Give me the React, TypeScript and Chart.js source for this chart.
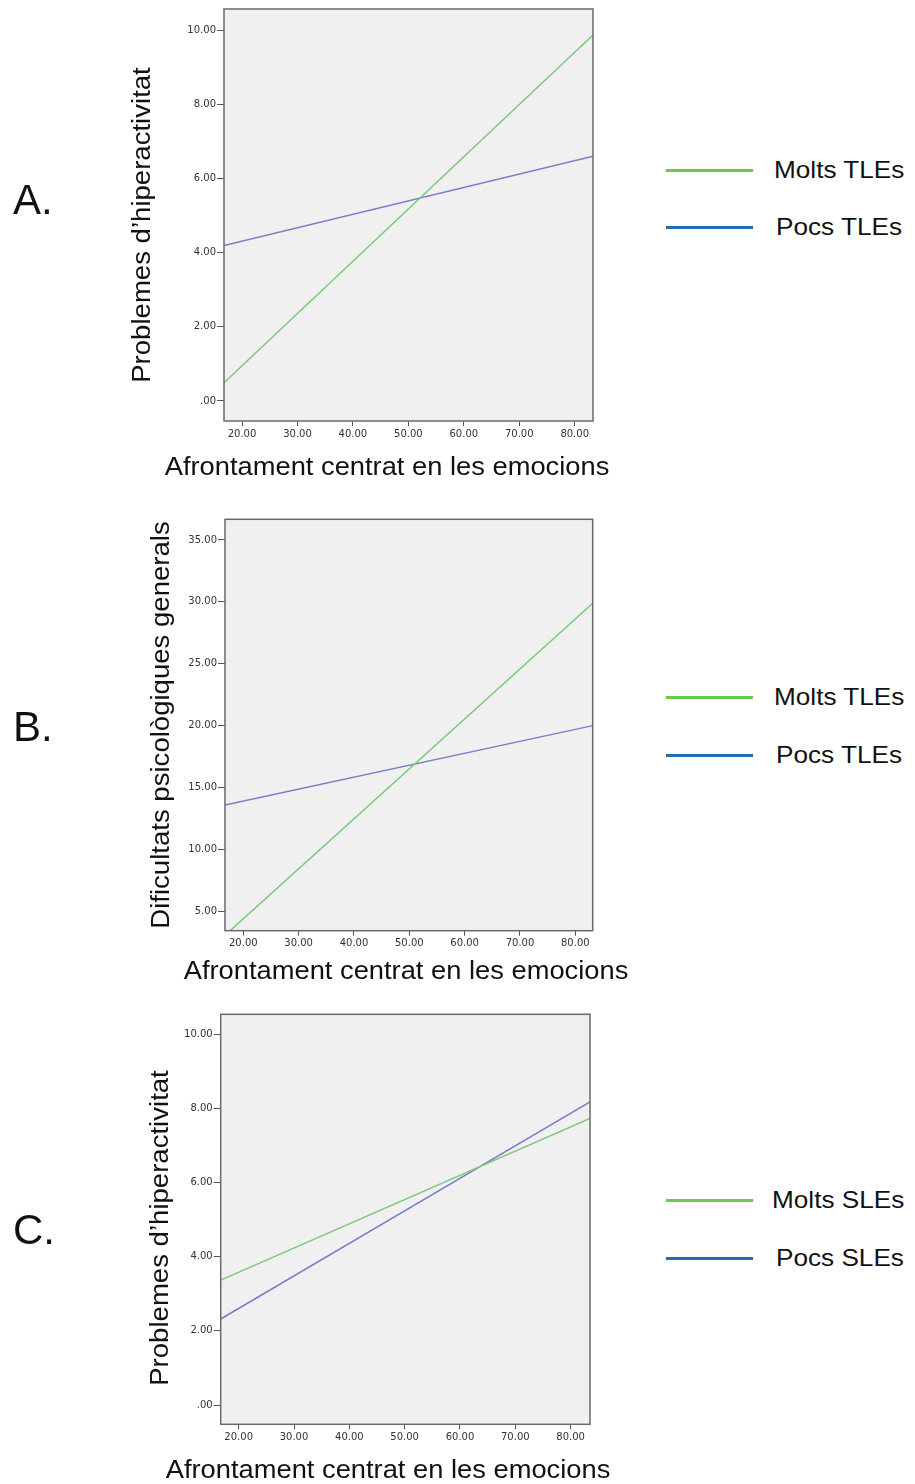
import React, { useEffect, useRef } from 'react';
import { Chart, registerables } from 'chart.js';

Chart.register(...registerables);

// ---------- data ----------
const xTicks = [20, 30, 40, 50, 60, 70, 80];
const yTicksHyper = [0, 2, 4, 6, 8, 10];
const yTicksDif = [5, 10, 15, 20, 25, 30, 35];

// Panel A (hiperactivitat x TLEs)
const aX = [16.75, 83.3];
const aMolts = [0.49, 9.87];
const aPocs = [4.19, 6.6];
const aYRange = [-0.54, 10.57];

// Panel B (dificultats generals x TLEs)
const bX = [16.69, 83.14];
const bMolts = [3.04, 29.88];
const bPocs = [13.58, 19.99];
const bYRange = [3.41, 36.67];

// Panel C (hiperactivitat x SLEs)
const cX = [16.75, 83.5];
const cMolts = [3.37, 7.73];
const cPocs = [2.32, 8.18];
const cYRange = [-0.52, 10.54];

const legendTLE = ['Molts TLEs', 'Pocs TLEs'];
const legendSLE = ['Molts SLEs', 'Pocs SLEs'];
const xTitle = 'Afrontament centrat en les emocions';
const yTitleHyper = 'Problemes d’hiperactivitat';
const yTitleDif = 'Dificultats psicològiques generals';

// ---------- styles ----------
const PLOT_GREEN = '#7cc87c';
const PLOT_BLUE = '#7c7ccc';
const LEG_GREEN = '#6cc84a';
const LEG_BLUE = '#1f6db5';
const SANS = '"Liberation Sans", Arial, Helvetica, sans-serif';
const CANVAS_W = 660;
const Y_AXIS_W = 60;
const X_AXIS_H = 25;

const fmt = (v: any) => {
  const n = Number(v);
  return n === 0 ? '.00' : n.toFixed(2);
};

const panelDecor = {
  id: 'panelDecor',
  beforeDraw(chart: any) {
    const { ctx, chartArea: a } = chart;
    ctx.save();
    ctx.fillStyle = '#f0f0f0';
    ctx.fillRect(a.left, a.top, a.right - a.left, a.bottom - a.top);
    ctx.restore();
  },
  afterDraw(chart: any, _args: any, opts: any) {
    const { ctx, chartArea: a } = chart;
    ctx.save();
    ctx.strokeStyle = '#6a6a6a';
    ctx.lineWidth = 1.5;
    ctx.strokeRect(a.left, a.top, a.right - a.left, a.bottom - a.top);
    ctx.fillStyle = '#111';
    ctx.font = `26px ${SANS}`;
    ctx.textAlign = 'center';
    ctx.textBaseline = 'alphabetic';
    // x title
    ctx.save();
    ctx.translate(opts.xTitleX, opts.xTitleY);
    ctx.scale(1.05, 1);
    ctx.fillText(opts.xTitle, 0, 0);
    ctx.restore();
    // y title
    ctx.save();
    ctx.translate(opts.yTitleX, opts.yTitleY);
    ctx.rotate(-Math.PI / 2);
    ctx.scale(1.06, 1);
    ctx.fillText(opts.yTitle, 0, 0);
    ctx.restore();
    ctx.restore();
  },
};

type PanelProps = {
  top: number;
  height: number;
  plot: { l: number; r: number; t: number; b: number };
  xs: number[];
  molts: number[];
  pocs: number[];
  yRange: number[];
  yTicks: number[];
  yTitle: string;
  yTitleX: number;
  yTitleY: number;
  xTitleX: number;
  xTitleY: number;
  legend: string[];
};

function Panel(p: PanelProps) {
  const ref = useRef<HTMLCanvasElement>(null);
  useEffect(() => {
    if (!ref.current) return;
    const tickFont = { family: '"DejaVu Sans", sans-serif', size: 10 };
    const chart = new Chart(ref.current, {
      type: 'line',
      data: {
        datasets: [
          {
            label: p.legend[0],
            data: p.xs.map((v, i) => ({ x: v, y: p.molts[i] })),
            borderColor: PLOT_GREEN,
            borderWidth: 1.5,
            pointRadius: 0,
            tension: 0,
            fill: false,
          },
          {
            label: p.legend[1],
            data: p.xs.map((v, i) => ({ x: v, y: p.pocs[i] })),
            borderColor: PLOT_BLUE,
            borderWidth: 1.5,
            pointRadius: 0,
            tension: 0,
            fill: false,
          },
        ],
      },
      options: {
        responsive: false,
        animation: false,
        events: [],
        layout: {
          padding: {
            left: p.plot.l - Y_AXIS_W,
            right: CANVAS_W - p.plot.r,
            top: p.plot.t - p.top,
            bottom: p.height - (p.plot.b - p.top) - X_AXIS_H,
          },
        },
        plugins: {
          legend: { display: false },
          tooltip: { enabled: false },
          panelDecor: {
            xTitle,
            yTitle: p.yTitle,
            xTitleX: p.xTitleX,
            xTitleY: p.xTitleY - p.top,
            yTitleX: p.yTitleX,
            yTitleY: p.yTitleY - p.top,
          },
        } as any,
        scales: {
          x: {
            type: 'linear',
            min: p.xs[0],
            max: p.xs[1],
            afterBuildTicks: (s: any) => {
              s.ticks = xTicks.map((v) => ({ value: v }));
            },
            afterFit: (s: any) => {
              s.height = X_AXIS_H;
            },
            grid: { display: true, drawOnChartArea: false, drawTicks: true, tickLength: 5, color: '#555', lineWidth: 1 },
            border: { display: false },
            ticks: { padding: 2, color: '#333', font: tickFont, callback: fmt, maxRotation: 0, autoSkip: false },
          },
          y: {
            type: 'linear',
            min: p.yRange[0],
            max: p.yRange[1],
            afterBuildTicks: (s: any) => {
              s.ticks = p.yTicks.map((v) => ({ value: v }));
            },
            afterFit: (s: any) => {
              s.width = Y_AXIS_W;
            },
            grid: { display: true, drawOnChartArea: false, drawTicks: true, tickLength: 7, color: '#555', lineWidth: 1 },
            border: { display: false },
            ticks: { padding: 1, color: '#333', font: tickFont, callback: fmt, autoSkip: false },
          },
        },
      },
      plugins: [panelDecor as any],
    });
    return () => chart.destroy();
  }, []);
  return (
    <canvas
      ref={ref}
      width={CANVAS_W}
      height={p.height}
      style={{ position: 'absolute', left: 0, top: p.top, width: CANVAS_W, height: p.height }}
    />
  );
}

function Letter({ text, cy }: { text: string; cy: number }) {
  return (
    <div
      style={{
        position: 'absolute',
        left: 13,
        top: cy - 20.5,
        font: `42px ${SANS}`,
        lineHeight: '42px',
        color: '#111',
        whiteSpace: 'nowrap',
      }}
    >
      {text}
    </div>
  );
}

function LegendItem({ label, color, y, textLeft }: { label: string; color: string; y: number; textLeft: number }) {
  return (
    <>
      <div style={{ position: 'absolute', left: 666, top: y - 1.5, width: 87, height: 3, background: color }} />
      <div
        style={{
          position: 'absolute',
          left: textLeft,
          top: y - 11.7,
          font: `24px ${SANS}`,
          lineHeight: '24px',
          color: '#111',
          whiteSpace: 'nowrap',
          transform: 'scaleX(1.09)',
          transformOrigin: 'left center',
        }}
      >
        {label}
      </div>
    </>
  );
}

export default function App() {
  return (
    <div style={{ position: 'absolute', left: 0, top: 0, width: 915, height: 1484, background: '#fff' }}>
      <Panel
        top={0}
        height={490}
        plot={{ l: 224, r: 593, t: 9, b: 421 }}
        xs={aX}
        molts={aMolts}
        pocs={aPocs}
        yRange={aYRange}
        yTicks={yTicksHyper}
        yTitle={yTitleHyper}
        yTitleX={150}
        yTitleY={225}
        xTitleX={387}
        xTitleY={475}
        legend={legendTLE}
      />
      <Panel
        top={500}
        height={490}
        plot={{ l: 225, r: 592.7, t: 519.3, b: 930.7 }}
        xs={bX}
        molts={bMolts}
        pocs={bPocs}
        yRange={bYRange}
        yTicks={yTicksDif}
        yTitle={yTitleDif}
        yTitleX={169}
        yTitleY={725}
        xTitleX={406}
        xTitleY={979}
        legend={legendTLE}
      />
      <Panel
        top={1000}
        height={484}
        plot={{ l: 220.7, r: 590, t: 1014.3, b: 1424.3 }}
        xs={cX}
        molts={cMolts}
        pocs={cPocs}
        yRange={cYRange}
        yTicks={yTicksHyper}
        yTitle={yTitleHyper}
        yTitleX={168}
        yTitleY={1228}
        xTitleX={388}
        xTitleY={1478}
        legend={legendSLE}
      />
      <Letter text="A." cy={199} />
      <Letter text="B." cy={726} />
      <Letter text="C." cy={1229} />
      <LegendItem label={legendTLE[0]} color={LEG_GREEN} y={170} textLeft={774} />
      <LegendItem label={legendTLE[1]} color={LEG_BLUE} y={227} textLeft={776} />
      <LegendItem label={legendTLE[0]} color={LEG_GREEN} y={697} textLeft={774} />
      <LegendItem label={legendTLE[1]} color={LEG_BLUE} y={755} textLeft={776} />
      <LegendItem label={legendSLE[0]} color={LEG_GREEN} y={1200} textLeft={772} />
      <LegendItem label={legendSLE[1]} color={LEG_BLUE} y={1258} textLeft={776} />
    </div>
  );
}
